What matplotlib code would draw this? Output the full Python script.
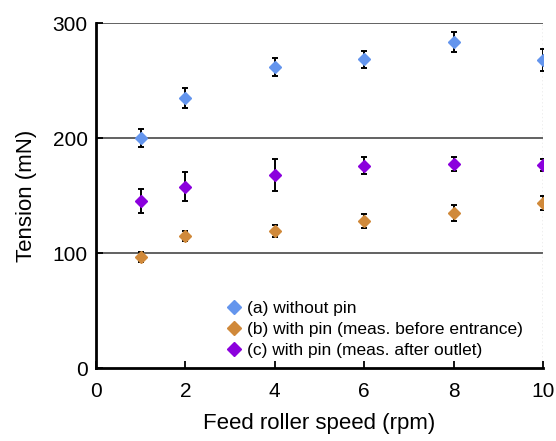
import matplotlib.pyplot as plt

plt.rcParams['font.family'] = ['Liberation Sans', 'DejaVu Sans']

# Feed roller speed (rpm)
speed = [1, 2, 4, 6, 8, 10]

# (a) without pin
tension_a = [200.0, 234.5, 261.5, 268.4, 283.2, 267.8]
err_a = [7.5, 8.8, 7.7, 7.5, 8.7, 9.3]

# (b) with pin, measured before entrance
tension_b = [96.5, 114.8, 119.1, 127.8, 134.5, 143.7]
err_b = [4.2, 4.5, 5.0, 5.8, 7.0, 6.2]

# (c) with pin, measured after outlet
tension_c = [145.5, 157.7, 167.8, 176.0, 177.4, 176.5]
err_c = [10.6, 12.9, 14.2, 7.7, 5.7, 5.5]

labels = ['(a) without pin',
          '(b) with pin (meas. before entrance)',
          '(c) with pin (meas. after outlet)']
colors = ['#6495ED', '#D0893A', '#8B00DD']

fig = plt.figure(figsize=(5.56, 4.41), dpi=100)
ax = fig.add_axes([0.1727, 0.1655, 0.8039, 0.7823])

# horizontal gridlines
for yv in [100, 200, 300]:
    ax.axhline(yv, color='#555555', lw=1.3, zorder=1)
ax.axvline(10, color='#aaaaaa', lw=1, ls=':', zorder=1)

series = [(tension_a, err_a), (tension_b, err_b), (tension_c, err_c)]
for (vals, errs), lab, col in zip(series, labels, colors):
    ax.errorbar(speed, vals, yerr=errs, fmt='D', ms=6, color=col, mec=col,
                ecolor='black', elinewidth=1.4, capsize=2, capthick=1.4,
                label=lab, zorder=3)

ax.set_xlim(0, 10)
ax.set_ylim(0, 300)
ax.set_xticks([0, 2, 4, 6, 8, 10])
ax.set_yticks([0, 100, 200, 300])

for s in ['top', 'right']:
    ax.spines[s].set_visible(False)
ax.spines['left'].set_linewidth(2)
ax.spines['bottom'].set_linewidth(2)

ax.tick_params(direction='in', labelsize=15, width=1.3, length=5, pad=10)
ax.tick_params(axis='y', pad=6)

ax.set_xlabel('Feed roller speed (rpm)', fontsize=16, labelpad=9)
ax.set_ylabel('Tension (mN)', fontsize=16, labelpad=11)

# legend markers without error bars
handles = [plt.Line2D([], [], marker='D', ls='', ms=7.5, color=c) for c in colors]
ax.legend(handles, labels, loc='lower left', bbox_to_anchor=(0.27, 0.0),
          frameon=False, fontsize=12.5, handlelength=0.8, handletextpad=0.35,
          labelspacing=0.32, borderaxespad=0.2)

fig.savefig('out.png', dpi=100)
